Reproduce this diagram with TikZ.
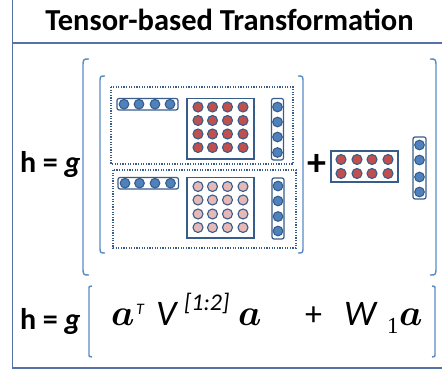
\RequirePackage{fix-cm}
\documentclass[tikz,border=0pt]{standalone}
\usepackage{fontspec}
\setmainfont{Carlito}
\newfontfamily\digitserif{Liberation Serif}
\usepackage{bm}
\definecolor{dk}{HTML}{385D8A}
\definecolor{blueF}{HTML}{4F81BD}
\definecolor{redF}{HTML}{C0504D}
\definecolor{pinkF}{HTML}{E6B9B8}
\definecolor{brk}{HTML}{5B8AC6}
\definecolor{frm}{HTML}{5472A6}
\newcommand\LBrk[4]{\draw[brkline] ({#1+#4},#2) .. controls (#1,#2) .. (#1,{#2+#4*1.4}) -- (#1,{#3-#4*1.4}) .. controls (#1,#3) .. ({#1+#4},#3);}
\newcommand\RBrk[4]{\draw[brkline] ({#1-#4},#2) .. controls (#1,#2) .. (#1,{#2+#4*1.4}) -- (#1,{#3-#4*1.4}) .. controls (#1,#3) .. ({#1-#4},#3);}
\begin{document}
\begin{tikzpicture}[x=1pt,y=-1pt,
  brkline/.style={draw=brk,line width=1.4pt},
  frameline/.style={draw=frm,line width=1.6pt},
  dotbox/.style={draw=dk,line width=1.3pt,dash pattern=on 1.2pt off 1.4pt},
  vecbox/.style={draw=dk,line width=1.2pt,fill=white,rounded corners=2pt},
  matbox/.style={draw=dk,line width=1.4pt,fill=white},
  bdot/.style={draw=dk,line width=1.1pt,fill=blueF},
  rdot/.style={draw=dk,line width=1.1pt,fill=redF},
  pdot/.style={draw=dk,line width=1.1pt,fill=pinkF},
  txt/.style={inner sep=0pt,outer sep=0pt,anchor=base west}]
\useasboundingbox (0,0) rectangle (442,374);
\clip (0,0) rectangle (442,374);
% frame
\draw[frameline] (12.5,-5) -- (12.5,368) -- (460,368);
\draw[frameline] (12.5,43) -- (460,43);
\node[inner sep=0pt,anchor=base] (title) at (229.5,30.5) {\fontsize{30.5}{30}\selectfont\bfseries Tensor-based Transformation};
% h = g labels
\node[txt] (hg1) at (20,173) {\fontsize{30}{30}\selectfont\bfseries h = \textit{g}};
\node[txt] (hg2) at (20,330) {\fontsize{30}{30}\selectfont\bfseries h = \textit{g}};
% brackets
\LBrk{83}{59}{275}{6}
\RBrk{436}{59}{275}{6}
\LBrk{100}{76}{253}{5}
\RBrk{303}{76}{253}{5}
\LBrk{89}{286}{357}{3}
\RBrk{435}{286}{357}{3}
% dotted boxes
\draw[dotbox] (111,87) rectangle (293,164);
\draw[dotbox] (113,170) rectangle (296,248);
% top slice
\draw[vecbox] (117,98.5) rectangle (178,110);
\foreach \x in {124,139,155,170} \draw[bdot] (\x,104.2) circle[radius=4.8];
\draw[matbox] (187,98.5) rectangle (254,159);
\foreach \x in {198,212.5,227.5,243} \foreach \y in {107,120.5,134,147.5} \draw[rdot] (\x,\y) circle[radius=5];
\draw[vecbox] (271.5,98.5) rectangle (283.5,160);
\foreach \y in {107,122,137,152.5} \draw[bdot] (277.5,\y) circle[radius=4.8];
% bottom slice
\draw[vecbox] (118,177.5) rectangle (178.5,189);
\foreach \x in {125,139.5,155,170.5} \draw[bdot] (\x,183.2) circle[radius=4.8];
\draw[matbox] (187,177.5) rectangle (254,238);
\foreach \x in {198,212.5,227.5,243} \foreach \y in {186.5,200,214,227.5} \draw[pdot] (\x,\y) circle[radius=5];
\draw[vecbox] (272,178) rectangle (284,239);
\foreach \y in {186,201,216.5,231} \draw[bdot] (278,\y) circle[radius=4.8];
% plus
\node[inner sep=0pt] (plus1) at (317,165) {\fontsize{38}{38}\selectfont\bfseries +};
% W matrix
\draw[matbox] (331,151) rectangle (398,182);
\foreach \x in {341,357,372,388} \foreach \y in {159.5,173.5} \draw[rdot] (\x,\y) circle[radius=5];
\draw[vecbox] (413,137) rectangle (426,199);
\foreach \y in {145,160,177,192} \draw[bdot] (419.5,\y) circle[radius=4.8];
% equation
\node[txt] (a1) at (111,325) {\fontsize{37}{37}\selectfont$\bm{a}$};
\node[txt] (T) at (136,315) {\fontsize{16}{16}\selectfont\itshape T};
\node[txt] (V) at (156,325) {\fontsize{36}{36}\selectfont\itshape V};
\node[txt] (idx) at (184,310) {\fontsize{24}{24}\selectfont\itshape [1:2]};
\node[txt] (a2) at (238,325) {\fontsize{37}{37}\selectfont$\bm{a}$};
\node[txt] (plus2) at (305,325) {\fontsize{34}{34}\selectfont +};
\node[txt] (W) at (344,325) {\fontsize{36}{36}\selectfont\itshape W};
\node[txt] (one) at (387,333) {\fontsize{23}{23}\selectfont\digitserif 1};
\node[txt] (a3) at (399,325) {\fontsize{37}{37}\selectfont$\bm{a}$};
\end{tikzpicture}
\end{document}
